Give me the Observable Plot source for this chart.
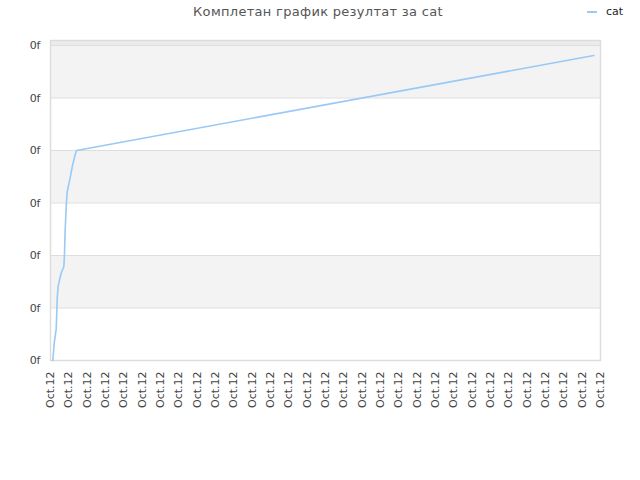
<!DOCTYPE html>
<html><head><meta charset="utf-8">
<script src="https://cdn.jsdelivr.net/npm/d3@7"></script>
<script src="https://cdn.jsdelivr.net/npm/@observablehq/plot@0.6"></script>
<style>
body{margin:0;background:#fff;font-family:"DejaVu Sans",sans-serif;}
#wrap{position:relative;width:640px;height:480px;}
#wrap svg{position:absolute;left:0;top:0;}
#title{position:absolute;left:0;width:636px;top:4px;text-align:center;font-size:13px;color:#555;letter-spacing:0.3px;z-index:2;}
#legend{position:absolute;left:587px;top:5px;font-size:11px;color:#222;z-index:2;}
</style></head><body>
<div id="wrap"><div id="title">Комплетан график резултат за cat</div><div id="legend"><span style="display:inline-block;width:10px;height:2px;background:#99c9f5;vertical-align:middle;margin-right:9px"></span>cat</div></div>
<script>
const seriesName = "cat";
const xTicks = [0,1,2,3,4,5,6,7,8,9,10,11,12,13,14,15,16,17,18,19,20,21,22,23,24,25,26,27,28,29,30];
const xTickLabels = ["Oct.12","Oct.12","Oct.12","Oct.12","Oct.12","Oct.12","Oct.12","Oct.12","Oct.12","Oct.12","Oct.12","Oct.12","Oct.12","Oct.12","Oct.12","Oct.12","Oct.12","Oct.12","Oct.12","Oct.12","Oct.12","Oct.12","Oct.12","Oct.12","Oct.12","Oct.12","Oct.12","Oct.12","Oct.12","Oct.12","Oct.12"];
const yTicks = [0,1,2,3,4,5,6];
const yTickLabels = ["0f","0f","0f","0f","0f","0f","0f"];
const catX = [0.125,0.20,0.31,0.33,0.37,0.42,0.53,0.60,0.73,0.76,0.80,0.86,0.91,1.05,1.18,1.33,1.42,29.64];
const catY = [0,0.32,0.60,0.79,1.21,1.42,1.59,1.68,1.79,2.0,2.48,2.95,3.21,3.44,3.68,3.90,4.0,5.81];
const bandLo = [1,3,5];
const bandHi = [2,4,6];

const lineData = catX.map((x,i)=>({x, y: catY[i]}));
const bands = bandLo.map((lo,i)=>({lo, hi: bandHi[i]}));

const chart = Plot.plot({
  width: 640, height: 480,
  marginLeft: 50, marginRight: 40, marginTop: 40, marginBottom: 120,
  style: {fontFamily: "DejaVu Sans, sans-serif", fontSize: "11px", color: "#444", background: "transparent"},
  x: {domain: [0, 30]},
  y: {domain: [0, 6.095]},
  marks: [
    Plot.rect([{lo: 6, hi: 6.095}], {x1: 0, x2: 30, y1: "lo", y2: "hi", fill: "#ebebeb"}),
    Plot.rect(bands, {x1: 0, x2: 30, y1: "lo", y2: "hi", fill: "#f3f3f3"}),
    Plot.ruleY(yTicks, {stroke: "#dddddd", strokeWidth: 1}),
    Plot.frame({stroke: "#dddddd", strokeWidth: 1.5}),
    Plot.line(lineData, {x: "x", y: "y", stroke: "#99c9f5", strokeWidth: 1.6}),
    Plot.axisY(yTicks, {tickSize: 0, tickPadding: 10, tickFormat: (d, i) => yTickLabels[i], fill: "#444"}),
    Plot.axisX(xTicks, {tickSize: 0, tickPadding: 11, tickRotate: -90, tickFormat: (d, i) => xTickLabels[i], fill: "#444", label: null})
  ]
});
document.getElementById("wrap").appendChild(chart);
</script>
</body></html>
